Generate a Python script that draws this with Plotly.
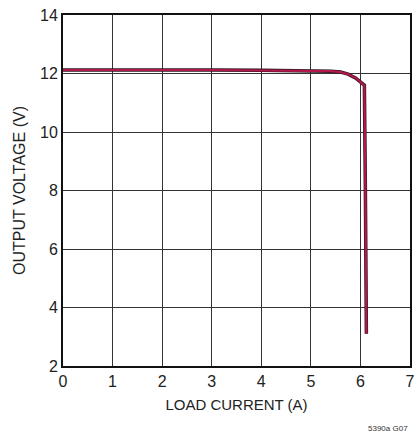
import plotly.graph_objects as go

load_current = [0, 1, 2, 3, 4, 5, 5.4, 5.6, 5.75, 5.9, 6.0, 6.08, 6.1, 6.12]
output_voltage = [12.12, 12.13, 12.12, 12.12, 12.11, 12.1, 12.08, 12.05, 11.98, 11.85, 11.72, 11.6, 8.0, 3.1]

x_ticks = [0, 1, 2, 3, 4, 5, 6, 7]
y_ticks = [2, 4, 6, 8, 10, 12, 14]

FONT = "Liberation Sans Narrow, Arial Narrow, Liberation Sans, sans-serif"

fig = go.Figure()
fig.add_trace(go.Scatter(x=load_current, y=output_voltage, mode="lines",
                         line=dict(color="#2a1a20", width=3.5), hoverinfo="skip"))
fig.add_trace(go.Scatter(x=load_current, y=output_voltage, mode="lines",
                         line=dict(color="#b3174b", width=2.2), hoverinfo="skip"))

axis_common = dict(showgrid=True, gridcolor="#333333", gridwidth=1,
                   showline=True, linecolor="#111", linewidth=2, mirror=True,
                   zeroline=False, ticks="", tickfont=dict(family=FONT, size=16, color="#222"))

fig.update_xaxes(range=[0, 7], tickvals=x_ticks, ticktext=[str(v) for v in x_ticks],
                 title=dict(text="LOAD CURRENT (A)", font=dict(family=FONT, size=15, color="#222"), standoff=10),
                 **axis_common)
fig.update_yaxes(range=[2, 14], tickvals=y_ticks, ticktext=[str(v) for v in y_ticks],
                 title=dict(text="OUTPUT VOLTAGE (V)", font=dict(family=FONT, size=16, color="#222"), standoff=10),
                 **axis_common)

fig.add_annotation(text="5390a G07", xref="paper", yref="paper", x=1.0, y=-0.177,
                   xanchor="right", yanchor="middle", showarrow=False,
                   font=dict(family=FONT, size=8, color="#333"))

fig.update_layout(width=419, height=436, margin=dict(l=63, r=4, t=15, b=70),
                  plot_bgcolor="white", paper_bgcolor="white", showlegend=False)

fig.write_html("out.html")
